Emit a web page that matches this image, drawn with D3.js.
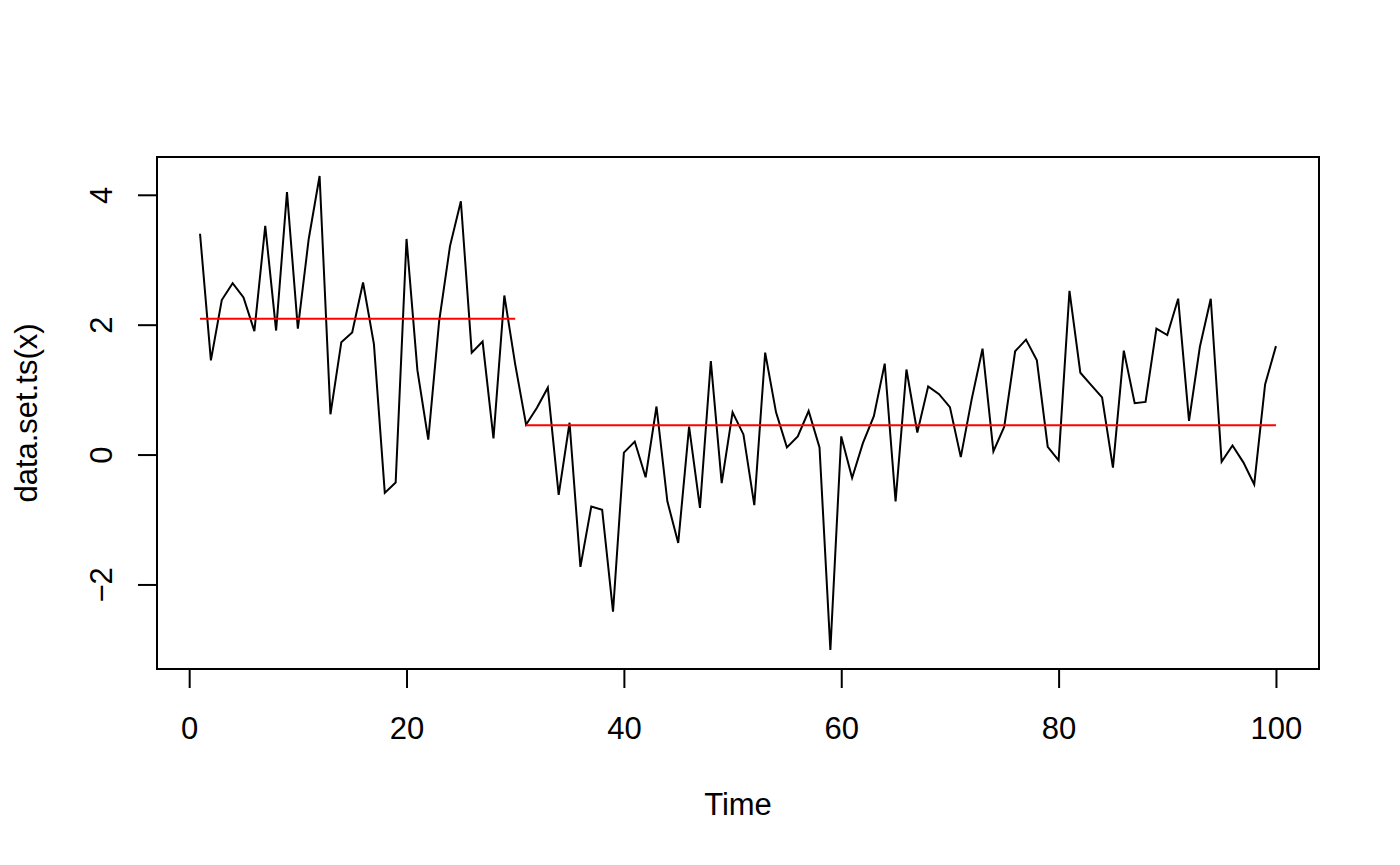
<!DOCTYPE html>
<html>
<head>
<meta charset="utf-8">
<script src="https://cdn.jsdelivr.net/npm/d3@7"></script>
<style>
  body { margin: 0; background: #fff; }
  text { font-family: "Liberation Sans", Arial, sans-serif; }
</style>
</head>
<body>
<svg id="chart" width="1400" height="865"></svg>
<script>
// series, t = 1..100
var values = [
  3.40, 1.45, 2.38, 2.64, 2.42, 1.90, 3.52, 1.91, 4.04, 1.94,
  3.32, 4.29, 0.62, 1.73, 1.88, 2.65, 1.70, -0.59, -0.43, 3.32,
  1.30, 0.23, 2.05, 3.21, 3.90, 1.57, 1.74, 0.25, 2.45, 1.39,
  0.46, 0.72, 1.03, -0.62, 0.49, -1.73, -0.80, -0.85, -2.42, 0.03,
  0.20, -0.35, 0.74, -0.72, -1.36, 0.43, -0.82, 1.44, -0.44, 0.65,
  0.31, -0.78, 1.57, 0.65, 0.11, 0.28, 0.67, 0.11, -3.01, 0.28,
  -0.36, 0.18, 0.59, 1.40, -0.72, 1.31, 0.34, 1.05, 0.93, 0.73,
  -0.04, 0.85, 1.63, 0.05, 0.43, 1.59, 1.77, 1.45, 0.12, -0.09,
  2.52, 1.26, 1.07, 0.88, -0.20, 1.60, 0.79, 0.81, 1.94, 1.84,
  2.40, 0.52, 1.66, 2.40, -0.11, 0.14, -0.12, -0.46, 1.08, 1.67
];
// segment means (changepoint fit)
var segStart = [1, 31];
var segEnd = [30, 100];
var segMean = [2.09, 0.45];

var xTicks = [0, 20, 40, 60, 80, 100];
var yTicks = [-2, 0, 2, 4];

function main() {
  var svg = d3.select("#chart");
  var left = 157, right = 1319, top = 157, bottom = 669;

  var data = values.map(function(v, i) { return { t: i + 1, v: v }; });

  var xr = [1, values.length], xp = (xr[1] - xr[0]) * 0.04;
  var x = d3.scaleLinear().domain([xr[0] - xp, xr[1] + xp]).range([left, right]);

  var yr = d3.extent(values), yp = (yr[1] - yr[0]) * 0.04;
  var y = d3.scaleLinear().domain([yr[0] - yp, yr[1] + yp]).range([bottom, top]);

  // series line
  var line = d3.line()
    .x(function(d) { return x(d.t); })
    .y(function(d) { return y(d.v); });

  svg.append("path")
    .datum(data)
    .attr("d", line)
    .attr("fill", "none")
    .attr("stroke", "#000")
    .attr("stroke-width", 2)
    .attr("stroke-linejoin", "miter");

  // segment means
  svg.selectAll(".seg")
    .data(segMean)
    .enter().append("line")
    .attr("class", "seg")
    .attr("x1", function(d, i) { return x(segStart[i]); })
    .attr("x2", function(d, i) { return x(segEnd[i]); })
    .attr("y1", function(d) { return y(d); })
    .attr("y2", function(d) { return y(d); })
    .attr("stroke", "#ff0000")
    .attr("stroke-width", 2);

  // box
  svg.append("rect")
    .attr("x", left).attr("y", top)
    .attr("width", right - left).attr("height", bottom - top)
    .attr("fill", "none").attr("stroke", "#000").attr("stroke-width", 2);

  // x axis
  var gx = svg.append("g").attr("transform", "translate(0," + bottom + ")")
    .call(d3.axisBottom(x).tickValues(xTicks).tickSize(19).tickFormat(d3.format("d")));
  gx.select(".domain").remove();
  gx.selectAll(".tick line").attr("stroke", "#000").attr("stroke-width", 2);
  gx.selectAll(".tick text")
    .attr("y", 70).attr("dy", null)
    .attr("font-size", 31).attr("fill", "#000")
    .attr("font-family", "Liberation Sans, Arial, sans-serif");

  // y axis
  var gy = svg.append("g").attr("transform", "translate(" + left + ",0)")
    .call(d3.axisLeft(y).tickValues(yTicks).tickSize(19).tickFormat(d3.format("d")));
  gy.select(".domain").remove();
  gy.selectAll(".tick line").attr("stroke", "#000").attr("stroke-width", 2);
  gy.selectAll(".tick text")
    .attr("x", null).attr("dy", null)
    .attr("transform", "translate(-45,0) rotate(-90)")
    .attr("text-anchor", "middle")
    .attr("font-size", 31).attr("fill", "#000")
    .attr("font-family", "Liberation Sans, Arial, sans-serif");

  // axis titles
  svg.append("text")
    .attr("x", (left + right) / 2).attr("y", 815)
    .attr("text-anchor", "middle").attr("font-size", 31)
    .text("Time");

  svg.append("text")
    .attr("transform", "translate(37," + (top + bottom) / 2 + ") rotate(-90)")
    .attr("text-anchor", "middle").attr("font-size", 31)
    .text("data.set.ts(x)");
}
main();
</script>
</body>
</html>
